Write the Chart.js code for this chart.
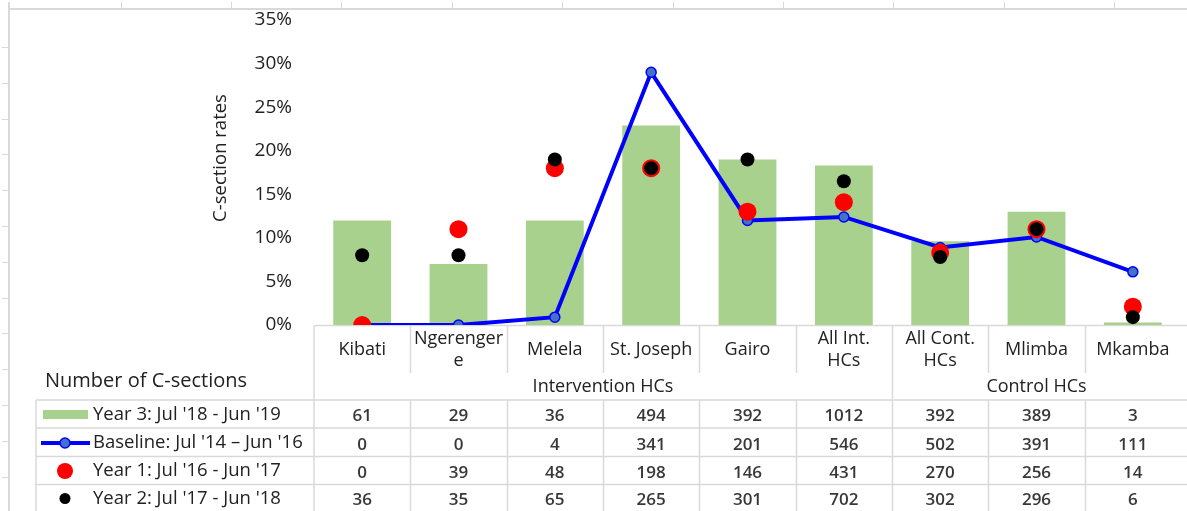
<!DOCTYPE html>
<html>
<head>
<meta charset="utf-8">
<script src="https://cdn.jsdelivr.net/npm/chart.js@4.4.1/dist/chart.umd.min.js"></script>
<style>
  html, body { margin: 0; padding: 0; overflow: hidden; background: #fff; }
  #wrap { position: relative; width: 1190px; height: 511px; }
</style>
</head>
<body>
<div id="wrap"><canvas id="c"></canvas></div>
<script>
// ---------- data ----------
const categories = [['Kibati'], ['Ngerenger', 'e'], ['Melela'], ['St. Joseph'], ['Gairo'],
  ['All Int.', 'HCs'], ['All Cont.', 'HCs'], ['Mlimba'], ['Mkamba']];
const groupNames = ['Intervention HCs', 'Control HCs'];
const groupStarts = [0, 6];   // first category index of each group
const yTicks = [0, 0.05, 0.10, 0.15, 0.20, 0.25, 0.30, 0.35];

const year3Rates    = [0.12, 0.07, 0.12, 0.229, 0.19, 0.183, 0.096, 0.13, 0.003];
const baselineRates = [0.00, 0.00, 0.009, 0.29, 0.12, 0.124, 0.089, 0.101, 0.061];
const year1Rates    = [0.00, 0.11, 0.18, 0.18, 0.13, 0.141, 0.083, 0.11, 0.021];
const year2Rates    = [0.08, 0.08, 0.19, 0.18, 0.19, 0.165, 0.078, 0.11, 0.009];

const year3Counts    = [61, 29, 36, 494, 392, 1012, 392, 389, 3];
const baselineCounts = [0, 0, 4, 341, 201, 546, 502, 391, 111];
const year1Counts    = [0, 39, 48, 198, 146, 431, 270, 256, 14];
const year2Counts    = [36, 35, 65, 265, 301, 702, 302, 296, 6];

const seriesLabels = ["Year 3: Jul '18 - Jun '19", "Baseline: Jul '14 \u2013 Jun '16",
  "Year 1: Jul '16 - Jun '17", "Year 2: Jul '17 - Jun '18"];
const tableTitle = 'Number of C-sections';
const axisTitle = 'C-section rates';

// ---------- styling ----------
const FONT = '"Open Sans", "Liberation Sans", sans-serif';
const GREEN = '#A9D18E', BLUE = '#0000FF', MARKER = '#4472C4', RED = '#FF0000', BLACK = '#000000';
const GRID = '#D9D9D9';
const TEXT = '#222222';

const sheetPlugin = {
  id: 'sheetTable',
  beforeDraw(chart) {
    const ctx = chart.ctx;
    const W = chart.width, H = chart.height;
    ctx.save();
    ctx.strokeStyle = GRID;
    ctx.lineWidth = 2;
    ctx.beginPath(); ctx.moveTo(8, 9); ctx.lineTo(W, 9); ctx.stroke();
    ctx.beginPath(); ctx.moveTo(9, 2); ctx.lineTo(9, H); ctx.stroke();
    ctx.lineWidth = 1;
    for (let x = 120.5; x < W; x += 110.4) {
      ctx.beginPath(); ctx.moveTo(Math.round(x) + 0.5, 2); ctx.lineTo(Math.round(x) + 0.5, 8); ctx.stroke();
    }
    for (let y = 47; y < H; y += 35.8) {
      ctx.beginPath(); ctx.moveTo(2, Math.round(y) + 0.5); ctx.lineTo(8, Math.round(y) + 0.5); ctx.stroke();
    }
    ctx.restore();
  },
  beforeDatasetsDraw(chart) {
    const ctx = chart.ctx;
    const xs = chart.scales.x;
    const W = chart.width, H = chart.height;
    const n = chart.data.labels.length;
    const cw = (xs.right - xs.left) / n;
    const axisY = chart.chartArea.bottom + 0.5;
    const groupBottom = 399, labelBottom = 373;
    const rowTops = [400, 428, 456.5, 484.5];
    ctx.save();
    ctx.strokeStyle = GRID;
    ctx.lineWidth = 1.5;
    ctx.beginPath(); ctx.moveTo(xs.left, axisY); ctx.lineTo(W, axisY); ctx.stroke();
    ctx.beginPath(); ctx.moveTo(xs.left, axisY); ctx.lineTo(xs.left, H); ctx.stroke();
    for (let i = 1; i < n; i++) {
      const bx = Math.round(xs.left + i * cw) + 0.5;
      const isGroup = groupStarts.includes(i);
      ctx.beginPath(); ctx.moveTo(bx, axisY); ctx.lineTo(bx, isGroup ? groupBottom : labelBottom); ctx.stroke();
    }
    rowTops.forEach(y => { ctx.beginPath(); ctx.moveTo(36, y); ctx.lineTo(W, y); ctx.stroke(); });
    ctx.beginPath(); ctx.moveTo(36, rowTops[0]); ctx.lineTo(36, H); ctx.stroke();
    for (let i = 1; i < n; i++) {
      const bx = Math.round(xs.left + i * cw) + 0.5;
      ctx.beginPath(); ctx.moveTo(bx, rowTops[0]); ctx.lineTo(bx, H); ctx.stroke();
    }
    ctx.restore();
  },
  afterDraw(chart) {
    const ctx = chart.ctx;
    const xs = chart.scales.x;
    const n = chart.data.labels.length;
    const cw = (xs.right - xs.left) / n;
    const ds = chart.data.datasets;
    ctx.save();
    ctx.fillStyle = TEXT;
    ctx.textBaseline = 'middle';

    // y axis title
    ctx.save();
    ctx.translate(221, 158);
    ctx.rotate(-Math.PI / 2);
    ctx.textAlign = 'center';
    ctx.font = '18.5px ' + FONT;
    ctx.fillText(axisTitle, 0, 0);
    ctx.restore();

    // category labels
    ctx.textAlign = 'center';
    ctx.font = '18px ' + FONT;
    chart.data.labels.forEach((lab, i) => {
      const cx = xs.getPixelForValue(i);
      const lines = Array.isArray(lab) ? lab : [lab];
      const lh = 22;
      const y0 = 350 - (lines.length - 1) * lh / 2;
      lines.forEach((t, k) => ctx.fillText(t, cx, y0 + k * lh));
    });
    // group labels
    groupNames.forEach((g, gi) => {
      const start = groupStarts[gi];
      const end = gi + 1 < groupStarts.length ? groupStarts[gi + 1] : n;
      const x0 = xs.left + start * cw, x1 = xs.left + end * cw;
      ctx.fillText(g, (x0 + x1) / 2, 387);
    });

    // table title
    ctx.textAlign = 'left';
    ctx.font = '20px ' + FONT;
    ctx.fillText(tableTitle, 45, 381);

    // table rows
    const rows = [
      {counts: year3Counts, ds: ds[3], kind: 'bar'},
      {counts: baselineCounts, ds: ds[2], kind: 'line'},
      {counts: year1Counts, ds: ds[1], kind: 'red'},
      {counts: year2Counts, ds: ds[0], kind: 'black'}
    ];
    const rowCenters = [414.5, 443, 471, 498.5];
    rows.forEach((r, ri) => {
      const cy = rowCenters[ri];
      if (r.kind === 'bar') {
        ctx.fillStyle = r.ds.backgroundColor;
        ctx.fillRect(43, cy - 4.5, 45, 9);
      } else if (r.kind === 'line') {
        ctx.strokeStyle = r.ds.borderColor;
        ctx.lineWidth = 4;
        ctx.beginPath(); ctx.moveTo(41, cy); ctx.lineTo(90, cy); ctx.stroke();
        ctx.fillStyle = r.ds.pointBackgroundColor;
        ctx.lineWidth = 1.5;
        ctx.beginPath(); ctx.arc(65, cy, 5, 0, Math.PI * 2); ctx.fill(); ctx.stroke();
      } else {
        ctx.fillStyle = r.ds.pointBackgroundColor;
        ctx.beginPath(); ctx.arc(65, cy, r.kind === 'red' ? 8 : 5.5, 0, Math.PI * 2); ctx.fill();
      }
      ctx.fillStyle = TEXT;
      ctx.textAlign = 'left';
      ctx.font = '18.5px ' + FONT;
      ctx.fillText(r.ds.label, 93, cy);
      ctx.textAlign = 'center';
      ctx.font = '600 17px ' + FONT;
      ctx.fillStyle = '#383838';
      r.counts.forEach((v, i) => ctx.fillText(String(v), xs.getPixelForValue(i), cy + 2));
      ctx.fillStyle = TEXT;
    });
    ctx.restore();
  }
};

Chart.defaults.font.family = FONT;

new Chart(document.getElementById('c'), {
  data: {
    labels: categories,
    datasets: [
      { type: 'line', label: seriesLabels[3], data: year2Rates, showLine: false,
        pointRadius: 7, pointHoverRadius: 7, pointBorderWidth: 0,
        pointBackgroundColor: BLACK, borderColor: BLACK, backgroundColor: BLACK, order: 0 },
      { type: 'line', label: seriesLabels[2], data: year1Rates, showLine: false,
        pointRadius: 9, pointHoverRadius: 9, pointBorderWidth: 0,
        pointBackgroundColor: RED, borderColor: RED, backgroundColor: RED, order: 1 },
      { type: 'line', label: seriesLabels[1], data: baselineRates, borderColor: BLUE, borderWidth: 4,
        tension: 0, pointRadius: 5, pointHoverRadius: 5, pointBackgroundColor: MARKER,
        pointBorderColor: BLUE, pointBorderWidth: 1.5, fill: false, order: 2 },
      { type: 'bar', label: seriesLabels[0], data: year3Rates, backgroundColor: GREEN,
        borderWidth: 0, categoryPercentage: 1.0, barPercentage: 0.6, order: 3 }
    ]
  },
  options: {
    responsive: true,
    maintainAspectRatio: false,
    animation: false,
    layout: { padding: { top: 20, bottom: 186, left: 0, right: 0 } },
    plugins: { legend: { display: false }, tooltip: { enabled: false } },
    scales: {
      x: { type: 'category', display: false, offset: true, grid: { display: false } },
      y: {
        min: 0, max: 0.35,
        afterBuildTicks(scale) { scale.ticks = yTicks.map(v => ({ value: v })); },
        afterFit(scale) { scale.width = 314; scale.paddingTop = 0; scale.paddingBottom = 0; },
        ticks: { callback: v => Math.round(v * 100) + '%', padding: 22, color: TEXT,
          font: { size: 19, family: FONT } },
        grid: { display: false, drawTicks: false },
        border: { display: false }
      }
    }
  },
  plugins: [sheetPlugin]
});
</script>
</body>
</html>
